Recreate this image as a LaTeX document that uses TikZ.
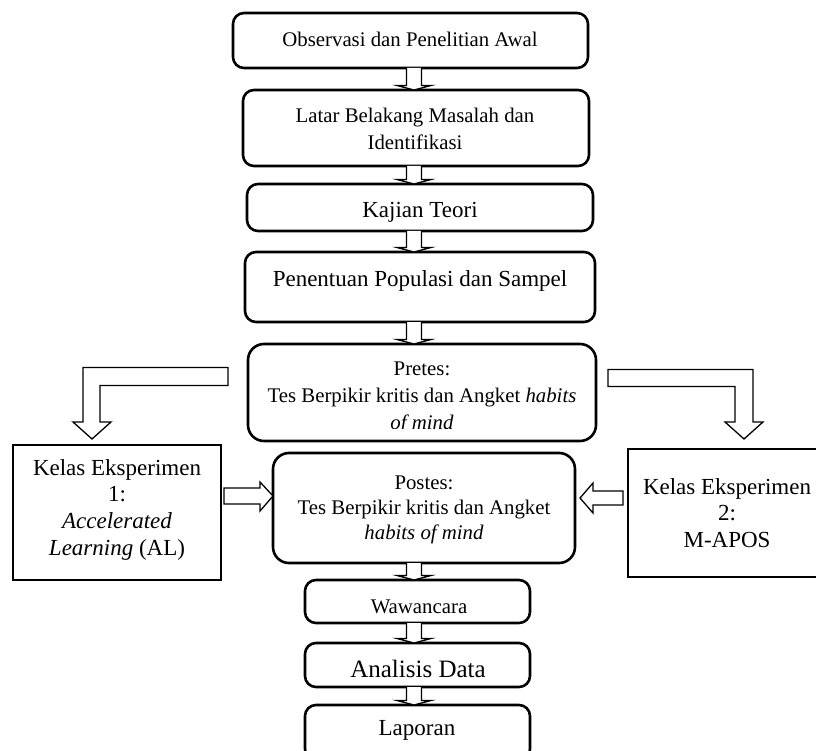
\documentclass[tikz,border=0pt]{standalone}
\usepackage{fontspec}
\setmainfont{Liberation Serif}
\usetikzlibrary{calc}
\newcommand\mlines[1]{\begin{tabular}[t]{@{}c@{}}#1\end{tabular}}
\newcommand\vblock[2]{%
  \draw[blk] let \p1=(col |- #1.south), \p2=(col |- #2.north) in
    (\x1-7.5pt,\y1) -- (\x1-7.5pt,\y2+4.5pt) -- (\x1-17pt,\y2+4.5pt) -- (\x1,\y2)
    -- (\x1+17pt,\y2+4.5pt) -- (\x1+7.5pt,\y2+4.5pt) -- (\x1+7.5pt,\y1);}
\begin{document}
\begin{tikzpicture}[x=1pt,y=-1pt,
  box/.style={draw,line width=2.6pt,rounded corners=11pt,outer sep=0pt,inner sep=0pt},
  bigbox/.style={box,rounded corners=16pt},
  sqbox/.style={draw,line width=2.6pt,outer sep=0pt,inner sep=0pt},
  txt/.style={anchor=base,inner sep=0pt,font=\fontsize{20.8}{25}\selectfont},
  txtl/.style={anchor=base,inner sep=0pt,font=\fontsize{23}{26.7}\selectfont},
  blk/.style={draw,line width=1.3pt,line join=miter,fill=white}]
\useasboundingbox (0,0) rectangle (816,751);
\fill[white] (0,0) rectangle (816,751);
\clip (0,0) rectangle (816,751);
\coordinate (col) at (414,0);

% boxes
\node[box,minimum width=355pt,minimum height=55pt] (b1) at (410.5,40.5) {};
\node[box,minimum width=346pt,minimum height=76pt] (b2) at (416,128) {};
\node[box,minimum width=346pt,minimum height=47pt] (b3) at (420,207.5) {};
\node[box,minimum width=350pt,minimum height=70pt] (b4) at (420,287) {};
\node[bigbox,minimum width=348pt,minimum height=97pt] (pretes) at (422,392.5) {};
\node[bigbox,minimum width=302pt,minimum height=110pt] (postes) at (424,508) {};
\node[sqbox,minimum width=208pt,minimum height=135pt] (k1) at (117,512.5) {};
\node[sqbox,minimum width=198pt,minimum height=128pt] (k2) at (727,513) {};
\node[box,minimum width=225pt,minimum height=43pt] (w) at (417.5,601.5) {};
\node[box,minimum width=225pt,minimum height=44pt] (an) at (417.5,665) {};
\node[box,minimum width=225pt,minimum height=55pt] (lap) at (417.5,732.5) {};

% texts
\node[txt] (t1) at (410,47) {Observasi dan Penelitian Awal};
\node[txt,font=\fontsize{20.8}{27}\selectfont] (t2) at (415,123) {\mlines{Latar Belakang Masalah dan\\Identifikasi}};
\node[txtl] (t3) at (420,218) {Kajian Teori};
\node[txtl] (t4) at (420,287) {Penentuan Populasi dan Sampel};
\begin{scope}
  \clip (pretes.north west) rectangle ($(pretes.east)+(0,36)$);
  \node[txt,font=\fontsize{20.8}{27}\selectfont] (tpre) at (422,375) {\mlines{Pretes:\\Tes Berpikir kritis dan Angket \textit{habits}\\\textit{of mind}}};
\end{scope}
\node[txt] (tpost) at (424,489) {\mlines{Postes:\\Tes Berpikir kritis dan Angket\\\textit{habits of mind}}};
\node[txtl] (tk1) at (117,475) {\mlines{Kelas Eksperimen\\1:\\\textit{Accelerated}\\\textit{Learning} (AL)}};
\node[txtl,font=\fontsize{23}{26.5}\selectfont] (tk2) at (727,494) {\mlines{Kelas Eksperimen\\2:\\M-APOS}};
\node[txt] (tw) at (419,613) {Wawancara};
\node[txt,font=\fontsize{25}{28}\selectfont] (ta) at (418,677) {Analisis Data};
\node[txtl] (tl) at (417,735) {Laporan};

% vertical block arrows
\vblock{b1}{b2}
\vblock{b2}{b3}
\vblock{b3}{b4}
\vblock{b4}{pretes}
\vblock{postes}{w}
\vblock{w}{an}
\vblock{an}{lap}

% bent arrows
\draw[blk] let \p1=(pretes.west), \p2=(k1.north) in
  (\x1-20pt,\y1+25pt) -- (\x2-34pt,\y1+25pt) -- (\x2-34pt,\y2+23pt) -- (\x2-44pt,\y2+23pt)
  -- (\x2-25pt,\y2+6pt) -- (\x2-6pt,\y2+23pt) -- (\x2-17pt,\y2+23pt) -- (\x2-17pt,\y1+7pt)
  -- (\x1-20pt,\y1+7pt) -- cycle;
\draw[blk] let \p1=(pretes.east), \p2=(k2.north) in
  (\x1+12pt,\y1+23pt) -- (\x2+26pt,\y1+23pt) -- (\x2+26pt,\y2+27pt) -- (\x2+36pt,\y2+27pt)
  -- (\x2+17pt,\y2+10pt) -- (\x2-2pt,\y2+27pt) -- (\x2+8pt,\y2+27pt) -- (\x2+8pt,\y1+6pt)
  -- (\x1+12pt,\y1+6pt) -- cycle;

% horizontal arrows
\draw[blk] let \p1=(k1.east), \p2=(postes.west) in
  (\x1+3pt,\y2+20pt) -- (\x2-13pt,\y2+20pt) -- (\x2-13pt,\y2+26pt) -- (\x2,\y2+12pt)
  -- (\x2-13pt,\y2-3pt) -- (\x2-13pt,\y2+4pt) -- (\x1+3pt,\y2+4pt) -- cycle;
\draw[blk] let \p1=(k2.west), \p2=(postes.east) in
  (\x1-5pt,\y2+17pt) -- (\x2+18pt,\y2+17pt) -- (\x2+18pt,\y2+25pt) -- (\x2+5pt,\y2+10pt)
  -- (\x2+18pt,\y2-5pt) -- (\x2+18pt,\y2+3pt) -- (\x1-5pt,\y2+3pt) -- cycle;
\end{tikzpicture}
\end{document}
